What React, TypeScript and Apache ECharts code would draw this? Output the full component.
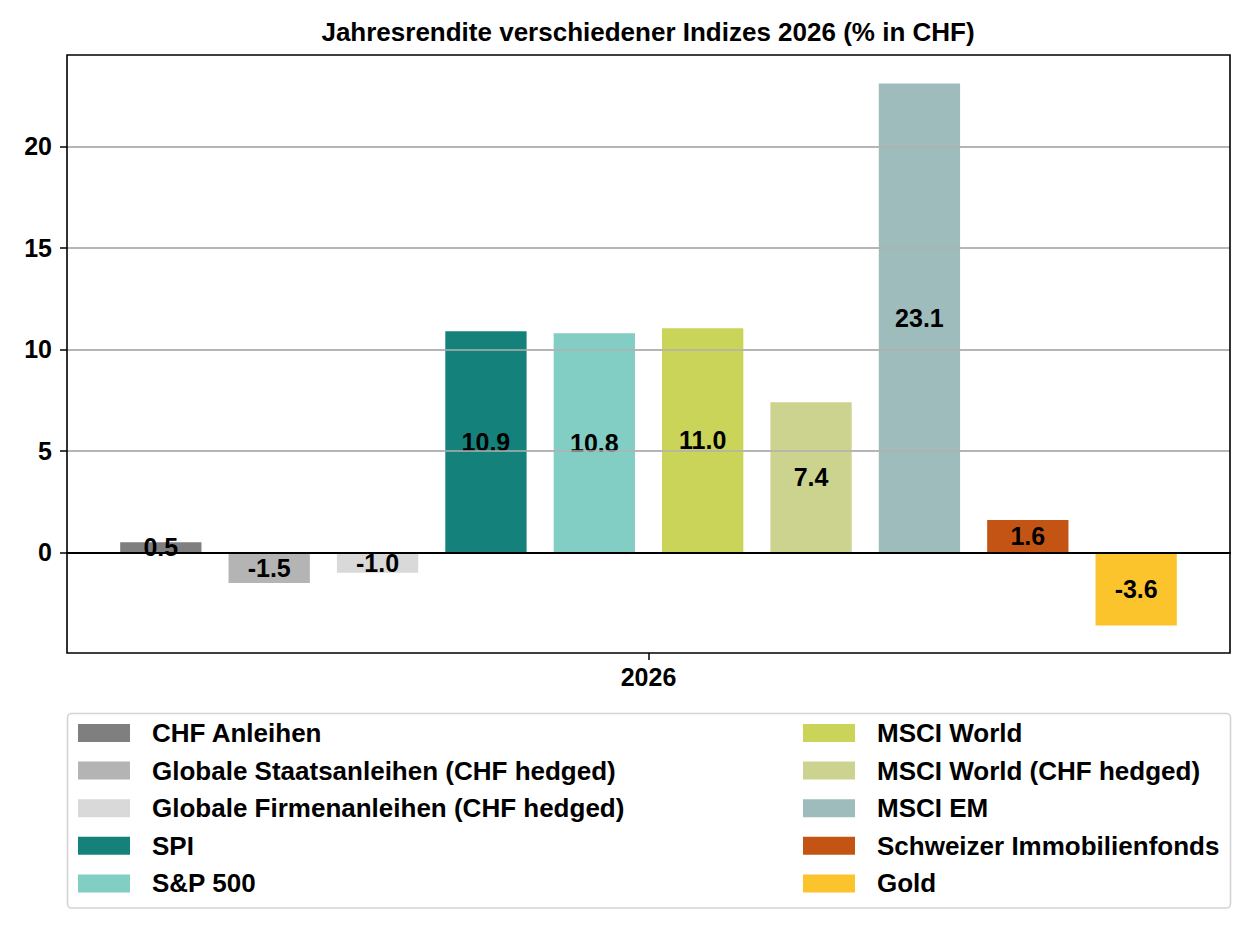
import React, { useEffect, useRef } from "react";
import * as echarts from "echarts";

const categories = ["2026"];
const seriesNames = [
  "CHF Anleihen",
  "Globale Staatsanleihen (CHF hedged)",
  "Globale Firmenanleihen (CHF hedged)",
  "SPI",
  "S&P 500",
  "MSCI World",
  "MSCI World (CHF hedged)",
  "MSCI EM",
  "Schweizer Immobilienfonds",
  "Gold",
];
const seriesValues = [0.5, -1.5, -1.0, 10.9, 10.8, 11.04, 7.4, 23.1, 1.6, -3.6];
const seriesColors = [
  "#7f7f7f",
  "#b4b4b4",
  "#d9d9d9",
  "#14827a",
  "#83cec4",
  "#c9d458",
  "#cbd38f",
  "#9dbcbb",
  "#c45414",
  "#fcc42c",
];
const yTicks = [0, 5, 10, 15, 20];

const FONT = "'Liberation Sans', Arial, Helvetica, sans-serif";

export default function App() {
  const ref = useRef<HTMLDivElement>(null);
  useEffect(() => {
    if (!ref.current) return;
    const chart = echarts.init(ref.current, null, { renderer: "svg" });
    const last = seriesNames.length - 1;
    const series: any[] = seriesNames.map((name, i) => ({
      name,
      type: "bar",
      xAxisIndex: 0,
      yAxisIndex: 0,
      data: [seriesValues[i]],
      barWidth: 81.3,
      barGap: "33.3%",
      itemStyle: { color: seriesColors[i] },
      label: {
        show: true,
        position: "inside",
        formatter: (p: any) => Number(p.value).toFixed(1),
        color: "#000",
        fontFamily: FONT,
        fontWeight: "bold",
        fontSize: 25,
      },
      z: 2,
      // gridlines drawn over the bars, as in the reference
      markLine:
        i === last
          ? {
              silent: true,
              symbol: ["none", "none"],
              z: 5,
              label: { show: false },
              lineStyle: { color: "#b0b0b0", width: 1.5, type: "solid" },
              data: yTicks.filter((v) => v !== 0).map((v) => ({ yAxis: v })),
            }
          : undefined,
    }));
    const legendText = {
      fontFamily: FONT,
      fontWeight: "bold",
      fontSize: 26,
      color: "#000",
      lineHeight: 18,
      padding: [0, 0, 0, 17],
    };
    const legendBase = {
      orient: "vertical",
      top: 720,
      padding: 0,
      itemWidth: 52,
      itemHeight: 18,
      itemGap: 11.6,
      icon: "rect",
      textStyle: legendText,
      selectedMode: false,
    };
    chart.setOption({
      animation: false,
      backgroundColor: "#fff",
      title: {
        text: "Jahresrendite verschiedener Indizes 2026 (% in CHF)",
        left: 643,
        textAlign: "center",
        top: 14,
        textStyle: {
          fontFamily: FONT,
          fontWeight: "bold",
          fontSize: 26,
          color: "#000",
        },
      },
      grid: {
        left: 67,
        right: 24,
        top: 55,
        bottom: 287,
        show: true,
        borderColor: "#000",
        borderWidth: 1.6,
        backgroundColor: "transparent",
        z: 6,
      },
      legend: [
        { ...legendBase, data: seriesNames.slice(0, 5), left: 78 },
        { ...legendBase, data: seriesNames.slice(5), left: 803 },
      ],
      xAxis: [
        {
          type: "category",
          data: categories,
          position: "bottom",
          axisLine: { show: false, onZero: false },
          axisTick: {
            show: true,
            alignWithLabel: true,
            length: 7,
            lineStyle: { color: "#000", width: 1.5 },
          },
          axisLabel: {
            color: "#000",
            fontFamily: FONT,
            fontWeight: "bold",
            fontSize: 25,
            margin: 11,
          },
          splitLine: { show: false },
        },
        {
          type: "category",
          data: categories,
          axisLine: { show: true, onZero: true, lineStyle: { color: "#000", width: 2.2 } },
          axisTick: { show: false },
          axisLabel: { show: false },
          splitLine: { show: false },
          z: 5,
        },
      ],
      yAxis: {
        type: "value",
        min: -4.95,
        max: 24.5,
        axisLine: { show: false },
        axisTick: {
          show: true,
          length: 7,
          lineStyle: { color: "#000", width: 1.5 },
          customValues: yTicks,
        },
        axisLabel: {
          color: "#000",
          fontFamily: FONT,
          fontWeight: "bold",
          fontSize: 25,
          margin: 15,
          customValues: yTicks,
        },
        splitLine: { show: true, lineStyle: { color: "#b0b0b0", width: 1.5 } },
      },
      graphic: [
        {
          type: "rect",
          shape: { x: 67.5, y: 713.5, width: 1163, height: 194.5, r: 4 },
          style: { fill: "none", stroke: "#d4d4d4", lineWidth: 1.6 },
          silent: true,
          z: 0,
        },
      ],
      series,
    });
    return () => chart.dispose();
  }, []);
  return (
    <div
      ref={ref}
      style={{ position: "fixed", left: 0, top: 0, width: 1254, height: 940 }}
    />
  );
}
